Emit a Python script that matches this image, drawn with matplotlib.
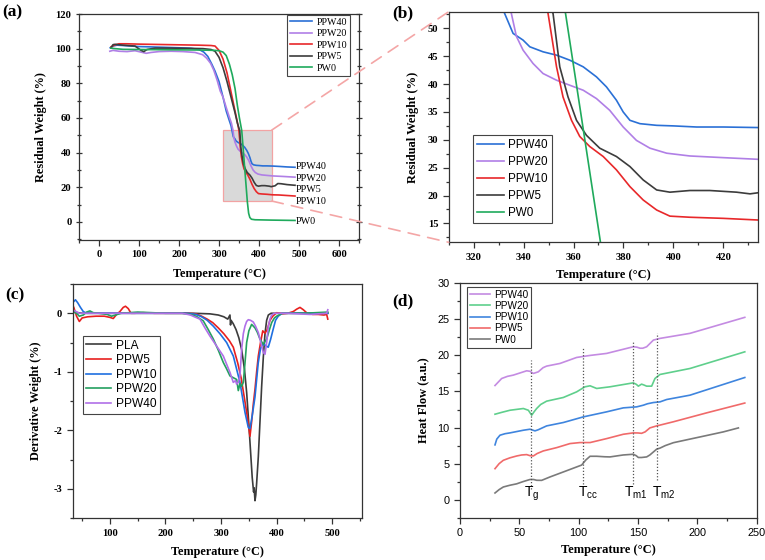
import matplotlib
matplotlib.use('Agg')
import matplotlib.pyplot as plt
from matplotlib.patches import Rectangle, ConnectionPatch
from matplotlib.ticker import MultipleLocator

plt.rcParams['axes.unicode_minus'] = False
plt.rcParams['mathtext.default'] = 'regular'

SERIF = 'Liberation Serif'
SANS = 'Liberation Sans'

# ---------------- (a)/(b) TGA data ----------------
tga_names = ['PPW40', 'PPW20', 'PPW10', 'PPW5', 'PW0']
tga_colors = ['#2a70d6', '#b07fe6', '#e8282a', '#3c3c3c', '#1faa5c']

t_ppw40 = [28, 35, 45, 60, 80, 100, 130, 160, 200, 230, 250, 262, 272, 282, 290, 300, 310, 318, 325, 330,
           332.4, 335.8, 339.8, 342.5, 347.8, 353.2, 358.5, 363.9, 369.2, 373.2, 377.2, 379.9, 382.6, 386.6,
           393.3, 400, 409.3, 420, 434, 450, 470, 490]
w_ppw40 = [100.5, 101.5, 102, 101.8, 101.5, 101.2, 101, 100.8, 100.5, 100.2, 99.5, 98, 95.5, 91, 87, 81, 72,
           64, 59, 55.5, 52.7, 49.1, 47.9, 46.7, 45.8, 45.2, 44.3, 43.1, 41.3, 39.5, 37.1, 35.0, 33.5, 32.9,
           32.6, 32.5, 32.3, 32.3, 32.2, 32.0, 31.7, 31.5]

t_ppw20 = [27, 35, 50, 70, 90, 105, 118, 130, 150, 180, 210, 240, 259, 269, 279, 287, 295, 303, 310, 318,
           325, 331, 335.1, 337.1, 339.8, 343.8, 347.8, 353.2, 358.5, 363.9, 369.2, 374.5, 379.9, 385.2,
           390.6, 397.3, 406.6, 420, 434, 460, 490]
w_ppw20 = [98.5, 99, 98.5, 98.3, 98.8, 98, 97.3, 97.8, 98.3, 98.5, 98.3, 97.8, 96.5, 94.5, 91.5, 87.5, 82,
           75.5, 72, 66, 61, 57, 52.7, 48.6, 46.1, 43.7, 41.9, 40.7, 39.8, 38.9, 37.4, 35.3, 32.3, 29.9,
           28.5, 27.6, 27.1, 26.8, 26.5, 26.2, 25.8]

t_ppw10 = [30, 38, 50, 70, 100, 150, 200, 250, 280, 290, 300, 310, 320, 330, 340, 345, 349.8, 353.2, 355.8,
           359.2, 362.5, 366.5, 371.9, 377.2, 382.6, 387.9, 393.3, 398.6, 406.6, 420, 434, 450, 470, 490]
w_ppw10 = [101, 102, 102.8, 102.8, 102.6, 102.4, 102.2, 102, 101.8, 101.5, 99, 94, 86, 75, 64, 58.5, 52.7,
           43.1, 37.7, 33.5, 30.6, 28.8, 27.0, 24.6, 21.6, 19.2, 17.4, 16.3, 16.1, 15.9, 15.6, 15.5, 15.2, 14.9]

t_ppw5 = [30, 35, 40, 60, 90, 105, 112, 120, 140, 180, 220, 260, 280, 290, 300, 310, 320, 330, 340, 346,
          351.8, 354.5, 357.8, 361.2, 365.2, 370.5, 377.2, 382.6, 387.9, 393.3, 398.6, 406.6, 414.6, 425.3,
          430.7, 434, 440, 447, 455, 470, 490]
w_ppw5 = [100.5, 102.3, 102.5, 102, 101.5, 99, 98.3, 99.5, 100.3, 100.3, 100.2, 100, 99.5, 98.5, 95, 89,
          81, 72, 63, 57, 52.7, 43.1, 37.7, 33.5, 30.8, 28.5, 27.0, 25.2, 22.8, 21.0, 20.6, 20.9, 20.9, 20.6,
          20.3, 20.5, 20.8, 22.1, 22.0, 21.5, 21.1]

t_pw0 = [30, 40, 60, 100, 150, 200, 250, 290, 300, 310, 318, 326, 333, 340, 346, 351, 356.8, 363.8, 370.8,
         374, 377, 381, 390, 430, 490]
w_pw0 = [100.3, 100, 99.6, 99.5, 99.4, 99.3, 99.2, 99, 98.8, 98, 96, 91, 85, 77, 67, 60, 52.7, 32.2, 11.6,
         5, 2.5, 1.5, 1.2, 1.0, 0.8]

tga_T = [t_ppw40, t_ppw20, t_ppw10, t_ppw5, t_pw0]
tga_W = [w_ppw40, w_ppw20, w_ppw10, w_ppw5, w_pw0]

end_labels = ['PPW40', 'PPW20', 'PPW5', 'PPW10', 'PW0']
end_label_y = [32.0, 25.2, 18.6, 11.8, 0.4]

a_xticks = [0, 100, 200, 300, 400, 500, 600]
a_yticks = [0, 20, 40, 60, 80, 100, 120]
b_xticks = [320, 340, 360, 380, 400, 420]
b_yticks = [15, 20, 25, 30, 35, 40, 45, 50]

# ---------------- (c) DTG data ----------------
dtg_names = ['PLA', 'PPW5', 'PPW10', 'PPW20', 'PPW40']
dtg_colors = ['#3c3c3c', '#e8201f', '#1f6fe0', '#24a060', '#b070e8']

t_pla = [35, 50, 100, 150, 200, 250, 280, 295, 305, 312, 316, 317, 318, 322, 327, 332, 337, 342, 346, 350,
         353, 356, 358.5, 359.5, 361, 362.5, 364, 367, 370, 373, 376, 379, 382, 385, 390, 420, 460, 492]
d_pla = [0.02, 0, 0, 0, 0, 0, -0.01, -0.03, -0.06, -0.1, -0.03, -0.2, -0.12, -0.18, -0.28, -0.42, -0.62,
         -0.95, -1.35, -1.9, -2.35, -2.8, -3.05, -2.98, -3.2, -3.1, -2.9, -2.45, -1.85, -1.25, -0.75, -0.35,
         -0.12, -0.03, 0, 0, 0, 0]

t_c5 = [35, 40, 45, 50, 60, 75, 90, 100, 106, 112, 118, 124, 128, 133, 138, 145, 160, 180, 200, 220, 240,
        255, 265, 275, 285, 295, 305, 315, 322, 330, 336, 342, 347, 350, 352, 355, 358, 361, 364, 367, 371,
        375, 379, 383, 388, 393, 400, 410, 420, 430, 436, 442, 448, 455, 465, 475, 485, 490, 492]
d_c5 = [0.1, -0.05, -0.14, -0.08, -0.06, -0.05, -0.05, -0.07, -0.09, -0.02, 0.03, 0.1, 0.12, 0.08, 0.0,
        0.0, 0.01, 0.0, 0.0, 0.0, 0.0, -0.01, -0.05, -0.1, -0.16, -0.25, -0.35, -0.47, -0.58, -0.85, -1.1,
        -1.45, -1.75, -1.95, -2.1, -1.85, -1.55, -1.3, -1.0, -0.73, -0.5, -0.3, -0.34, -0.28, -0.12, -0.05,
        0.01, -0.01, 0.0, 0.03, 0.07, 0.1, 0.06, 0.0, -0.02, -0.02, -0.03, -0.02, -0.1]

t_c10 = [35, 38, 42, 47, 52, 58, 70, 100, 150, 200, 240, 255, 265, 275, 286, 298, 310, 322, 334, 343, 349,
         352, 356, 361, 366.8, 371, 375.8, 380, 384.9, 389, 393.8, 398, 402.8, 410, 450, 492]
d_c10 = [0.2, 0.23, 0.18, 0.1, 0.03, 0.0, 0.0, 0.0, 0.0, 0.0, 0.0, -0.02, -0.06, -0.12, -0.22, -0.35, -0.5,
         -0.73, -1.18, -1.69, -1.95, -1.97, -1.75, -1.43, -0.85, -0.6, -0.52, -0.55, -0.58, -0.45, -0.27,
         -0.12, -0.05, 0.0, 0.0, 0.0]

t_c20 = [35, 40, 45, 52, 58, 64, 70, 80, 95, 103, 110, 120, 150, 200, 230, 245, 255, 268, 277, 286, 295,
         304, 310, 316, 322, 328, 331, 334, 337, 340, 343, 346, 350, 355, 361, 365, 370, 375.8, 382, 387,
         391, 396, 400, 410, 450, 492]
d_c20 = [0.02, 0.0, -0.05, -0.03, 0.02, 0.04, 0.01, 0.0, -0.02, -0.05, -0.03, 0.0, 0.02, 0.0, 0.0, -0.02,
         -0.05, -0.13, -0.28, -0.44, -0.63, -0.84, -0.95, -1.07, -1.1, -1.13, -1.32, -1.2, -1.25, -1.18,
         -0.85, -0.5, -0.3, -0.19, -0.25, -0.32, -0.44, -0.53, -0.44, -0.28, -0.16, -0.08, -0.05, 0.0, 0.0,
         0.02]

t_c40 = [35, 45, 60, 80, 100, 150, 200, 230, 245, 252, 262, 271, 280, 292, 304, 316, 322, 326, 328, 331,
         334, 337, 340, 343, 346, 349, 353, 358, 362, 367, 371, 376, 379, 382, 385, 388, 391, 396, 420, 460,
         490, 492]
d_c40 = [0.05, 0.0, 0.0, 0.0, 0.0, 0.0, 0.0, 0.0, -0.03, -0.06, -0.1, -0.25, -0.39, -0.56, -0.73, -1.01,
         -1.18, -1.15, -1.21, -1.18, -1.07, -0.61, -0.35, -0.22, -0.14, -0.11, -0.12, -0.15, -0.22, -0.33,
         -0.48, -0.67, -0.7, -0.5, -0.22, -0.1, -0.03, 0.0, 0.0, -0.02, 0.0, 0.06]

dtg_T = [t_pla, t_c5, t_c10, t_c20, t_c40]
dtg_D = [d_pla, d_c5, d_c10, d_c20, d_c40]

c_xticks = [100, 200, 300, 400, 500]
c_yticks = [-3, -2, -1, 0]

# ---------------- (d) DSC data ----------------
dsc_names = ['PPW40', 'PPW20', 'PPW10', 'PPW5', 'PW0']
dsc_colors = ['#c48be2', '#5fcf8c', '#3f85de', '#f06a6a', '#7a7a7a']

t_d40 = [29.5, 35.1, 40, 44.9, 56.2, 59, 61.8, 66, 70, 73, 84.3, 98.3, 109.6, 123.6, 146, 149, 151.7, 154,
         157.3, 163, 168.5, 193.8, 240]
h_d40 = [15.83, 16.8, 17.1, 17.27, 17.87, 17.8, 17.5, 17.73, 18.3, 18.52, 18.89, 19.72, 20.0, 20.28, 21.2,
         21.15, 21.0, 21.0, 21.2, 22.13, 22.36, 23.06, 25.28]

t_d20 = [29.5, 35, 42.1, 53.4, 57.6, 60.4, 62.5, 64.6, 68, 73, 87.1, 98.3, 105.3, 109.6, 115.2, 126.4, 146,
         148.5, 150.3, 153, 155, 157.3, 161.5, 164.3, 168.5, 193.8, 240]
h_d20 = [11.85, 12.1, 12.4, 12.64, 12.4, 11.71, 12.2, 12.64, 13.2, 13.66, 14.17, 14.95, 15.65, 15.79, 15.42,
         15.65, 16.2, 16.0, 15.74, 16.02, 15.9, 15.74, 15.74, 16.8, 17.36, 18.19, 20.5]

t_d10 = [29.5, 31, 33.7, 38, 42.1, 53.4, 59, 63.2, 66, 73, 87.1, 103.9, 123.6, 137.6, 148.9, 154.5, 158, 163,
         168.5, 174.2, 193.8, 240]
h_d10 = [7.6, 8.4, 8.94, 9.15, 9.26, 9.63, 9.77, 9.54, 9.7, 10.23, 10.7, 11.48, 12.18, 12.73, 12.87, 13.1,
         13.3, 13.47, 13.56, 13.89, 14.49, 16.94]

t_d5 = [29.5, 33, 36.5, 42, 47.8, 52, 56.2, 59, 61.8, 65, 70.2, 81.5, 92.7, 101.1, 109.6, 123.6, 137.6, 146,
        150, 153, 156, 160, 165.7, 170, 179.8, 207.9, 240]
h_d5 = [4.3, 5.0, 5.46, 5.8, 6.06, 6.2, 6.25, 6.1, 6.06, 6.4, 6.76, 7.22, 7.78, 7.92, 7.92, 8.47, 9.07, 9.26,
        9.25, 9.2, 9.4, 9.95, 10.23, 10.4, 10.8, 12.04, 13.4]

t_d0 = [29.5, 33, 36.5, 42, 47.8, 53, 59, 62, 64.6, 68.8, 75.8, 87, 98.3, 102.5, 106, 109.6, 115.2, 122,
        126.4, 137.6, 146, 148.5, 150.3, 153, 157.3, 160, 163, 165.7, 168.5, 173, 179.8, 193.8, 207.9,
        221.9, 234.6]
h_d0 = [0.93, 1.4, 1.76, 2.0, 2.2, 2.5, 2.8, 2.8, 2.69, 2.68, 3.15, 3.84, 4.54, 4.8, 5.5, 6.02, 6.02, 5.95,
        5.93, 6.2, 6.3, 6.1, 5.85, 5.85, 5.93, 6.2, 6.62, 7.0, 7.15, 7.5, 7.9, 8.4, 8.9, 9.4, 9.95]

dsc_T = [t_d40, t_d20, t_d10, t_d5, t_d0]
dsc_H = [h_d40, h_d20, h_d10, h_d5, h_d0]

trans_labels = ['$T_g$', '$T_{cc}$', '$T_{m1}$', '$T_{m2}$']
trans_T = [59.8, 103.9, 146, 166.3]
trans_lo = [1.5, 2.2, 2.2, 2.7]
trans_hi = [19.35, 21.2, 21.9, 23.06]
trans_label_x = [60.4, 108, 148, 172]

d_xticks = [0, 50, 100, 150, 200, 250]
d_yticks = [0, 5, 10, 15, 20, 25, 30]

# ---------------- figure ----------------
fig = plt.figure(figsize=(7.65, 5.6), dpi=100)


def style_axes(ax, xt, yt, xminor, yminor, tickfont, tickweight, ticksize):
    ax.set_xticks(xt)
    ax.set_xticklabels([str(v) for v in xt], fontfamily=tickfont, fontweight=tickweight, fontsize=ticksize)
    ax.set_yticks(yt)
    ax.set_yticklabels([str(v) for v in yt], fontfamily=tickfont, fontweight=tickweight, fontsize=ticksize)
    ax.xaxis.set_minor_locator(MultipleLocator(xminor))
    ax.yaxis.set_minor_locator(MultipleLocator(yminor))
    ax.tick_params(which='both', direction='out', top=False, right=False, width=0.9, colors='#333333',
                   labelcolor='black')
    ax.tick_params(which='major', length=4)
    ax.tick_params(which='minor', length=2.5)
    for s in ax.spines.values():
        s.set_linewidth(0.9)
        s.set_color('#333333')


def axis_labels(ax, xl, yl, size=9, xpad=4, ypad=4):
    ax.set_xlabel(xl, fontfamily=SERIF, fontweight='bold', fontsize=size, labelpad=xpad)
    ax.set_ylabel(yl, fontfamily=SERIF, fontweight='bold', fontsize=size, labelpad=ypad)


# (a)
axa = fig.add_axes([0.1033, 0.5714, 0.366, 0.4036])
for T, W, c, n in zip(tga_T, tga_W, tga_colors, tga_names):
    axa.plot(T, W, color=c, lw=1.2, label=n, zorder=3)
axa.add_patch(Rectangle((310, 12), 122, 41, facecolor='#d9d9d9', edgecolor='#f2a3a3', lw=0.9, zorder=2))
for lbl, y in zip(end_labels, end_label_y):
    axa.text(492, y, lbl, fontfamily=SERIF, fontsize=7.3, va='center', ha='left')
axa.set_xlim(-50, 650)
axa.set_ylim(-10.5, 120)
style_axes(axa, a_xticks, a_yticks, 50, 10, SERIF, 'bold', 7.6)
axa.tick_params(which='both', right=True)
axa.tick_params(which='both', axis='y', direction='inout')
axis_labels(axa, 'Temperature (°C)', 'Residual Weight (%)', 8.8, 6, 6)
leg = axa.legend(loc='upper right', bbox_to_anchor=(0.968, 0.996), prop={'family': SERIF, 'size': 7.2},
                 frameon=True, fancybox=False, edgecolor='#444444', framealpha=1, handlelength=2.2,
                 labelspacing=0.25, borderpad=0.3, handletextpad=0.4, borderaxespad=0)
leg.get_frame().set_linewidth(0.8)

# (b)
axb = fig.add_axes([0.5865, 0.5673, 0.4047, 0.4118])
for T, W, c, n in zip(tga_T, tga_W, tga_colors, tga_names):
    axb.plot(T, W, color=c, lw=1.2, label=n)
axb.set_xlim(310, 434)
axb.set_ylim(11.6, 53)
style_axes(axb, b_xticks, b_yticks, 10, 2.5, SERIF, 'bold', 7.6)
axis_labels(axb, 'Temperature (°C)', 'Residual Weight (%)', 9, 5, 6)
leg = axb.legend(loc='upper left', bbox_to_anchor=(0.0775, 0.465), prop={'family': SANS, 'size': 8.4},
                 frameon=True, fancybox=False, edgecolor='#444444', framealpha=1, handlelength=2.3,
                 labelspacing=0.42, borderpad=0.35, handletextpad=0.4, borderaxespad=0)
leg.get_frame().set_linewidth(0.8)

# zoom connectors (drawn above the axes backgrounds)
for ya, yb in [(53, 53), (12, 11.6)]:
    con = ConnectionPatch(xyA=(432, ya), coordsA=axa.transData, xyB=(310, yb), coordsB=axb.transData,
                          color='#f4a6a6', lw=1.2, linestyle=(0, (7, 5)), zorder=5)
    fig.add_artist(con)

# (c)
axc = fig.add_axes([0.095, 0.0745, 0.3778, 0.4184])
for T, D, c, n in zip(dtg_T, dtg_D, dtg_colors, dtg_names):
    axc.plot(T, D, color=c, lw=1.2, label=n)
axc.set_xlim(33, 553)
axc.set_ylim(-3.5, 0.5)
style_axes(axc, c_xticks, c_yticks, 50, 0.5, SERIF, 'bold', 7.6)
axis_labels(axc, 'Temperature (°C)', 'Derivative Weight (%)', 8.8, 6, 8)
leg = axc.legend(loc='upper left', bbox_to_anchor=(0.0346, 0.778), prop={'family': SANS, 'size': 8.6},
                 frameon=True, fancybox=False, edgecolor='#444444', framealpha=1, handlelength=2.1,
                 labelspacing=0.22, borderpad=0.3, handletextpad=0.4, borderaxespad=0)
leg.get_frame().set_linewidth(0.8)

# (d)
axd = fig.add_axes([0.6013, 0.0755, 0.3878, 0.4186])
for T, H, c, n in zip(dsc_T, dsc_H, dsc_colors, dsc_names):
    axd.plot(T, H, color=c, lw=1.2, label=n)
for x, lo, hi in zip(trans_T, trans_lo, trans_hi):
    axd.plot([x, x], [lo, hi], color='#555555', lw=0.9, linestyle=(0, (1, 1.5)))
for lbl, x in zip(trans_labels, trans_label_x):
    axd.text(x, 0.37, lbl, fontfamily=SANS, fontsize=10, ha='center', va='baseline')
axd.set_xlim(0, 250)
axd.set_ylim(-2.5, 30)
style_axes(axd, d_xticks, d_yticks, 25, 2.5, SANS, 'normal', 7.8)
axis_labels(axd, 'Temperature (°C)', 'Heat Flow (a.u.)', 9, 4, 6)
leg = axd.legend(loc='upper left', bbox_to_anchor=(0.0226, 0.9855), prop={'family': SANS, 'size': 7.2},
                 frameon=True, fancybox=False, edgecolor='#444444', framealpha=1, handlelength=2.0,
                 labelspacing=0.12, borderpad=0.3, handletextpad=0.4, borderaxespad=0)
leg.get_frame().set_linewidth(0.8)

# panel labels
for txt, x, y in [('(a)', 2, 12), ('(b)', 392, 13), ('(c)', 5, 295), ('(d)', 392, 301)]:
    fig.text(x / 765, 1 - y / 560, txt, fontfamily=SERIF, fontweight='bold', fontsize=12.5,
             ha='left', va='center')

fig.savefig('out.png', dpi=100)
